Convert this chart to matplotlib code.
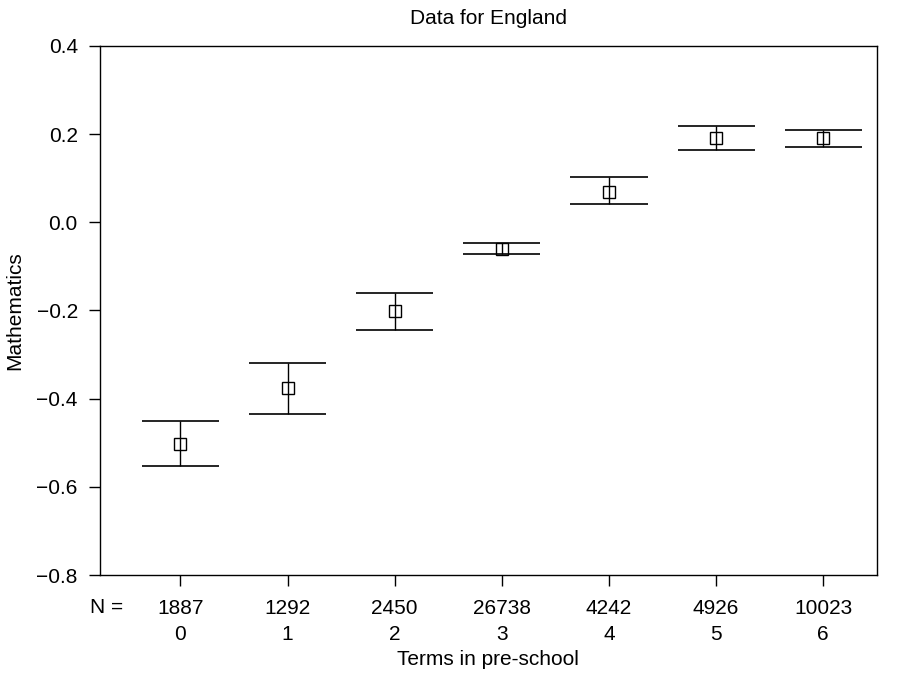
import matplotlib
matplotlib.use("Agg")
import matplotlib.pyplot as plt
import numpy as np

plt.rcParams['font.family'] = ['Liberation Sans', 'DejaVu Sans']

terms = [0, 1, 2, 3, 4, 5, 6]
n_counts = [1887, 1292, 2450, 26738, 4242, 4926, 10023]
means = [-0.502, -0.376, -0.202, -0.061, 0.069, 0.192, 0.192]
upper = [-0.451, -0.319, -0.161, -0.048, 0.102, 0.219, 0.209]
lower = [-0.553, -0.435, -0.245, -0.072, 0.041, 0.163, 0.171]

FS = 15

fig = plt.figure(figsize=(9.04, 6.76), dpi=100)
ax = fig.add_axes([0.1106, 0.1494, 0.8594, 0.7826])

x = np.array(terms, dtype=float)
cap_half = 0.36
ax.vlines(x, lower, upper, color='black', lw=1.0)
ax.hlines(upper, x - cap_half, x + cap_half, color='black', lw=1.2)
ax.hlines(lower, x - cap_half, x + cap_half, color='black', lw=1.2)
ax.plot(x, means, linestyle='none', marker='s', markersize=9,
        markerfacecolor='none', markeredgecolor='black', markeredgewidth=1.0)

ax.set_xlim(-0.75, 6.5)
ax.set_ylim(-0.8, 0.4)
ax.set_yticks([-0.8, -0.6, -0.4, -0.2, 0.0, 0.2, 0.4])
ax.set_yticklabels(['\u22120.8', '\u22120.6', '\u22120.4', '\u22120.2', '0.0', '0.2', '0.4'])
ax.set_xticks(x)
ax.set_xticklabels([f"{n}\n{t}" for n, t in zip(n_counts, terms)], linespacing=1.52)
ax.tick_params(axis='both', direction='out', length=8, width=1, labelsize=FS)
ax.tick_params(axis='y', pad=8)
ax.tick_params(axis='x', pad=9)
for s in ax.spines.values():
    s.set_linewidth(1.0)

ax.annotate('N =', xy=(-0.84, 0), xycoords=('data', 'axes fraction'),
            xytext=(0, -16.7), textcoords='offset points',
            ha='left', va='top', fontsize=FS, annotation_clip=False)
ax.set_xlabel('Terms in pre-school', fontsize=FS, labelpad=4)
ax.set_ylabel('Mathematics', fontsize=FS, labelpad=9)
ax.set_title('Data for England', fontsize=FS, pad=16)

fig.savefig('out.png', dpi=100)
